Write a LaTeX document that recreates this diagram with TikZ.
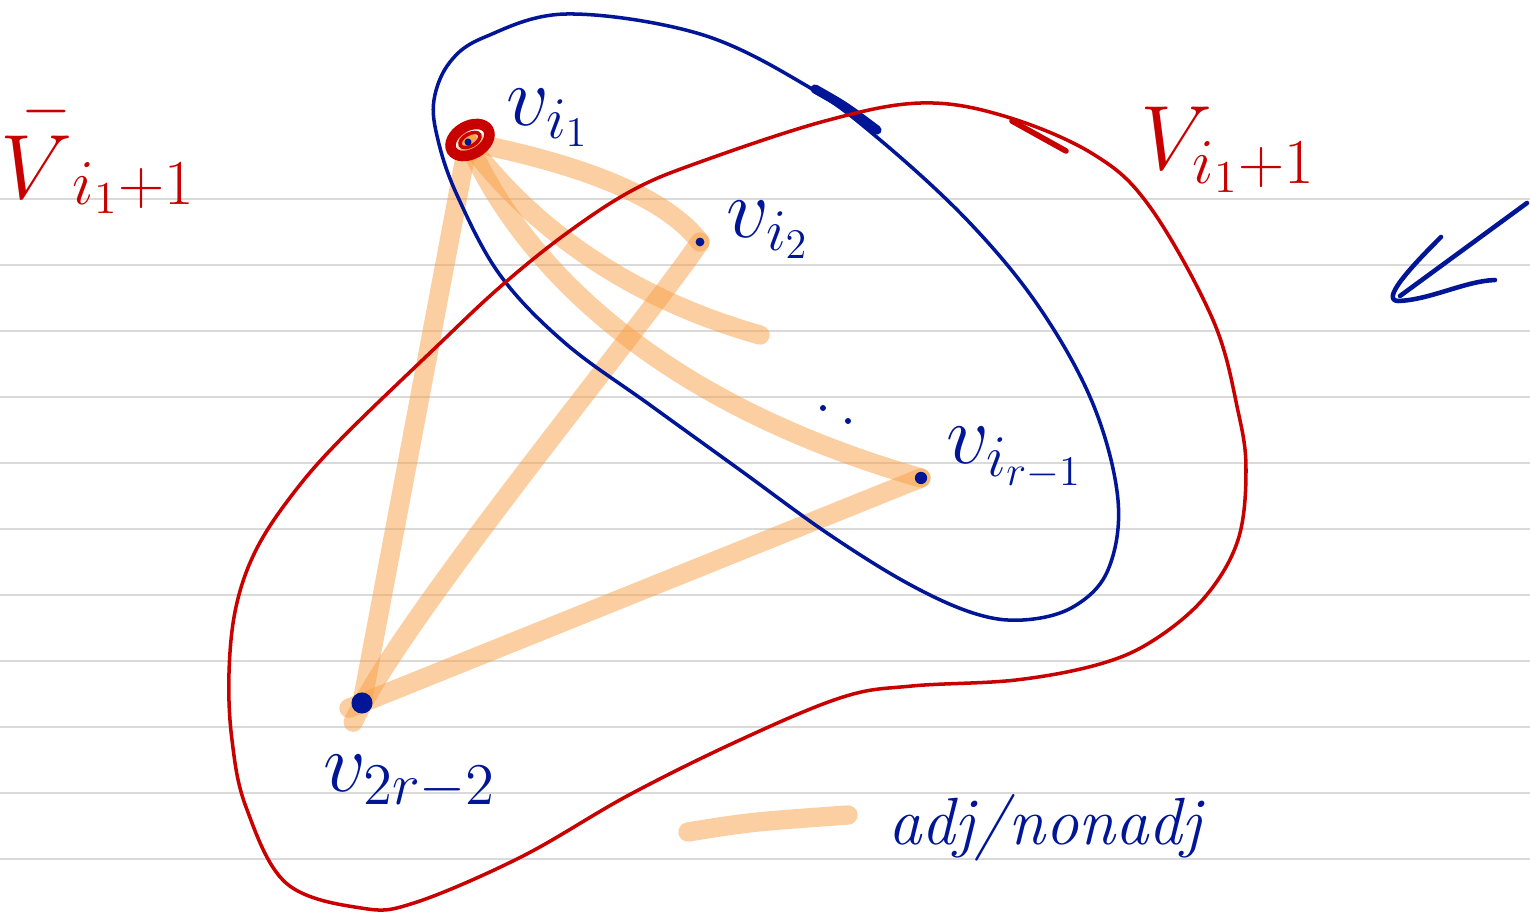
\documentclass[tikz,border=0pt]{standalone}
\usepackage{fix-cm}
\pgfdeclarelayer{grid}
\pgfdeclarelayer{edges}
\pgfsetlayers{grid,edges,main}
\definecolor{penblue}{RGB}{0,22,150}
\definecolor{penred}{RGB}{200,0,0}
\definecolor{hilite}{RGB}{249,160,70}
\definecolor{ruled}{RGB}{218,218,218}

\begin{document}
\begin{tikzpicture}[
    x=0.1mm, y=-0.1mm,
    bluepen/.style={
        draw=penblue, line width=1pt,
        line cap=round, line join=round,
    },
    redpen/.style={
        draw=penred, line width=1pt,
        line cap=round, line join=round,
    },
    adjedge/.style={
        draw=hilite, opacity=0.5,
        line width=5.5pt, line cap=round,
    },
    vdot/.style={
        circle, fill=penblue, inner sep=0pt, minimum size=#1,
    },
    vdot/.default=2.5pt,
    vlabel/.style={
        text=penblue, inner sep=0pt,
        font=\fontsize{24}{28}\selectfont,
    },
    setlabel/.style={
        text=penred, inner sep=0pt,
        font=\fontsize{26}{30}\selectfont,
    },
]

% ruled paper
\useasboundingbox (0,0) rectangle (1530,915);
\begin{pgfonlayer}{grid}
\fill[white] (0,0) rectangle (1530,915);
\foreach \y in {199,265,...,859}
    \draw[ruled, line width=0.7pt] (0,\y) -- (1530,\y);
\end{pgfonlayer}

% the two sets
\draw[bluepen] plot[smooth cycle, tension=0.6] coordinates {
    (567,14) (700,34) (807,86) (879,139) (968,221) (1039,307)
    (1093,404) (1118,500) (1108,570) (1073,607) (1023,620) (973,613)
    (907,583) (827,533) (740,470) (650,405) (565,343)
    (500,275) (457,195) (438,140) (434,100) (450,62) (485,37)};
\draw[bluepen, line width=2.6pt] (815,89) .. controls (845,106) .. (877,130);
\draw[redpen] plot[smooth cycle, tension=0.6] coordinates {
    (340,440) (433,350) (500,287) (567,233) (633,190)
    (700,162) (825,121) (921,103) (1004,116) (1093,154) (1150,207)
    (1213,320) (1238,411) (1246,470) (1238,540) (1205,597) (1154,640)
    (1100,664) (1016,680) (912,686) (843,697) (740,740) (629,795)
    (521,857) (414,903) (361,908) (286,883) (246,807) (232,740)
    (229,673) (236,607) (256,550) (292,495)};
\draw[redpen, line width=1.6pt] (1012,121) -- (1066,151);

% vertices
\draw[penred, line width=3pt, rotate around={30:(470,140)}]
    (470,140) ellipse [x radius=21, y radius=14];
\draw[penred, line width=1pt, rotate around={30:(470,140)}]
    (470,140) ellipse [x radius=11, y radius=6];
\node[vdot=2pt] (vi1) at (468,142) {};
\node[vdot] (vi2) at (700,242) {};
\node[vdot=3.5pt] (vir) at (921,478) {};
\node[vdot=6pt] (v2r) at (362,703) {};
\coordinate (loose) at (760,335);
\fill[penblue] (823,408) circle [radius=3];
\fill[penblue] (848,421) circle [radius=3];

% labels
\node[vlabel] (lvi1) at (548,118) {$v_{i_1}$};
\node[vlabel] (lvi2) at (768,230) {$v_{i_2}$};
\node[vlabel] (lvir) at (1015,458) {$v_{i_{r-1}}$};
\node[vlabel] (lv2r) at (410,782) {$v_{2r-2}$};
\node[setlabel] (lset) at (1228,150) {$V_{i_1+1}$};
\node[setlabel] (lbar) at (98,150) {${\stackrel{-}{V}}_{i_1+1}$};

% adj/nonadj strokes
\begin{pgfonlayer}{edges}
\draw[adjedge] (vi1.center) .. controls (560,160) and (660,190) .. (vi2.center);
\draw[adjedge] (vi1.center) .. controls (510,200) and (600,290) .. (loose);
\draw[adjedge] (vi1.center) .. controls (520,260) and (650,400) .. (vir.center);
\draw[adjedge] (vi1.center) -- (v2r.center);
\draw[adjedge, shorten >=-6pt] (vi2.center) .. controls (640,330) and (400,620) .. (v2r.center);
\draw[adjedge, shorten >=-4pt] (vir.center) -- (v2r.center);
\end{pgfonlayer}

% legend
\coordinate (legA) at (688,832);
\coordinate (legB) at (848,815);
\draw[adjedge] (legA) .. controls (750,822) .. (legB);
\node[vlabel, font=\itshape\fontsize{19}{23}\selectfont] (legtext) at (1045,828) {adj/nonadj};

% arrow on the right
\coordinate (arrTail) at (1527,203);
\coordinate (arrTip) at (1400,296);
\draw[bluepen, line width=1.3pt] (arrTail) -- (arrTip);
\draw[bluepen, line width=1.3pt] (1441,237) .. controls (1412,266) and (1380,300) .. (1398,301)
    .. controls (1430,300) and (1465,281) .. (1495,280);

\end{tikzpicture}
\end{document}
